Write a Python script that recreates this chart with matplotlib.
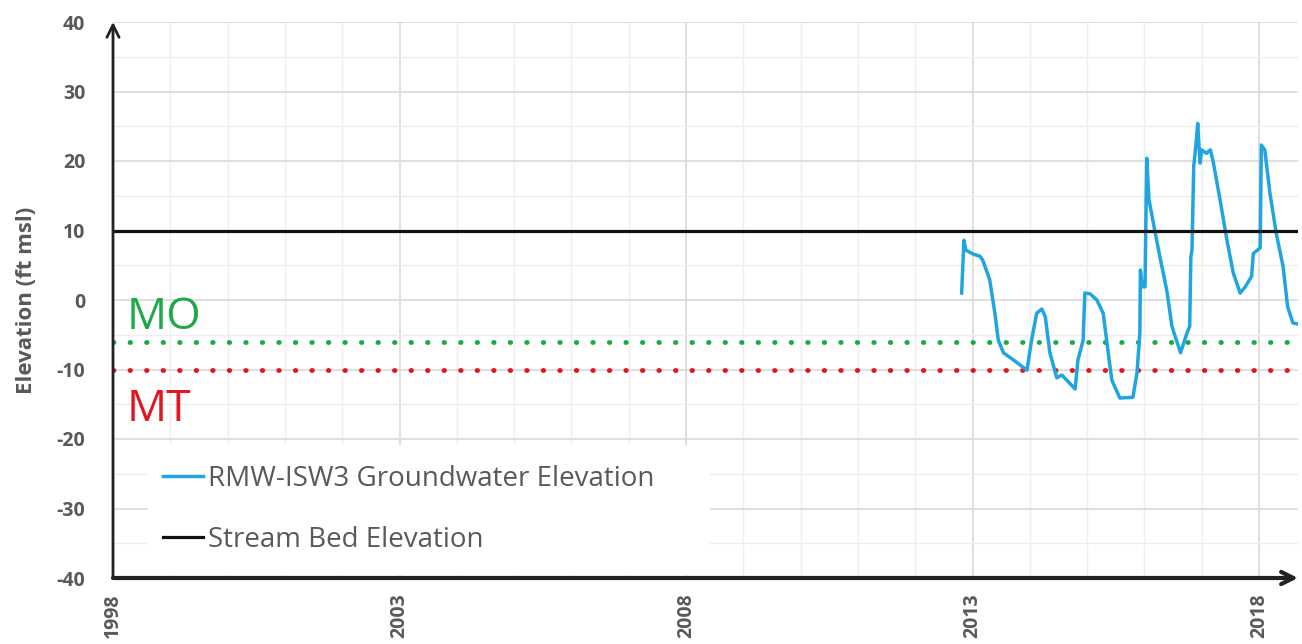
import matplotlib.pyplot as plt
from matplotlib.patches import Rectangle
from matplotlib.ticker import MultipleLocator

plt.rcParams['font.family'] = ['Open Sans', 'DejaVu Sans']
plt.rcParams['axes.unicode_minus'] = False

# RMW-ISW3 groundwater elevation (decimal year, ft msl)
gw_years = [2012.81, 2012.85, 2012.88, 2013.01, 2013.13, 2013.18, 2013.30, 2013.39,
            2013.45, 2013.54, 2013.71, 2013.95, 2014.03, 2014.12, 2014.21, 2014.27,
            2014.35, 2014.47, 2014.56, 2014.64, 2014.79, 2014.84, 2014.93, 2014.96,
            2015.05, 2015.17, 2015.28, 2015.34, 2015.43, 2015.57, 2015.80, 2015.87,
            2015.92, 2015.93, 2015.96, 2016.01, 2016.04, 2016.08, 2016.19, 2016.27,
            2016.39, 2016.48, 2016.63, 2016.74, 2016.79, 2016.81, 2016.83, 2016.86,
            2016.90, 2016.93, 2016.97, 2017.00, 2017.08, 2017.15, 2017.20, 2017.32,
            2017.44, 2017.55, 2017.67, 2017.76, 2017.87, 2017.90, 2018.02, 2018.04,
            2018.10, 2018.19, 2018.30, 2018.42, 2018.50, 2018.59, 2018.75]
gw_elev = [1.0, 8.6, 7.2, 6.6, 6.3, 5.7, 2.9, -1.9,
           -5.8, -7.6, -8.6, -10.1, -5.8, -1.9, -1.3, -2.4,
           -7.6, -11.2, -10.8, -11.5, -12.8, -8.6, -5.8, 1.0,
           0.9, 0.0, -1.9, -5.8, -11.5, -14.1, -14.0, -10.5,
           -4.8, 4.3, 1.9, 1.9, 20.4, 14.4, 9.6, 6.2,
           1.4, -3.8, -7.6, -4.8, -3.8, 6.2, 7.2, 19.2,
           22.5, 25.4, 19.7, 21.6, 21.1, 21.6, 19.9, 14.4,
           8.6, 3.9, 1.0, 1.9, 3.4, 6.7, 7.5, 22.3,
           21.6, 15.4, 9.6, 4.8, -1.0, -3.3, -3.6]

stream_bed = 10
mo_level = -6
mt_level = -10
year_ticks = [1998, 2003, 2008, 2013, 2018]

fig = plt.figure(figsize=(13.02, 6.44), dpi=100)
ax = fig.add_axes([113 / 1302, 1 - 578 / 644, 1185 / 1302, 556 / 644])
ax.set_xlim(1998, 2018.68)
ax.set_ylim(-40, 40)

# grid
ax.xaxis.set_major_locator(MultipleLocator(5))
ax.xaxis.set_minor_locator(MultipleLocator(1))
ax.yaxis.set_major_locator(MultipleLocator(10))
ax.yaxis.set_minor_locator(MultipleLocator(5))
ax.grid(which='major', color='#d9d9d9', lw=1.2)
ax.grid(which='minor', color='#eeeeee', lw=1.0)
ax.set_axisbelow(True)
ax.set_xticks(year_ticks)

for s in ax.spines.values():
    s.set_visible(False)
ax.tick_params(which='both', length=0)
ax.tick_params(axis='y', pad=20, labelsize=14, labelcolor='#595959')
ax.tick_params(axis='x', pad=11, labelsize=14, labelcolor='#595959', labelrotation=90)
for lbl in ax.get_xticklabels() + ax.get_yticklabels():
    lbl.set_fontweight('bold')

ax.set_ylabel('Elevation (ft msl)', fontsize=16, fontweight='bold', color='#595959')
ax.yaxis.set_label_coords(-0.064, 0.5)

# axes with arrowheads
ax.annotate('', xy=(0, 1.0), xytext=(0, 0), xycoords='axes fraction',
            arrowprops=dict(arrowstyle='->', lw=2, color='#222222',
                            mutation_scale=22, shrinkA=0, shrinkB=0))
ax.annotate('', xy=(1.0, 0), xytext=(0, 0), xycoords='axes fraction',
            arrowprops=dict(arrowstyle='->', lw=3, color='#222222',
                            mutation_scale=22, shrinkA=0, shrinkB=0))

# thresholds
ax.axhline(mo_level, color='#1fa84a', lw=3.5, ls=(0, (0.1, 3.3)), dash_capstyle='round')
ax.axhline(mt_level, color='#e3161e', lw=3.5, ls=(0, (0.1, 3.3)), dash_capstyle='round')
ax.text(1998.24, -2.6, 'MO', color='#1fa84a', fontsize=32, va='center', ha='left')
ax.text(1998.24, -15.8, 'MT', color='#e3161e', fontsize=32, va='center', ha='left')

gw, = ax.plot(gw_years, gw_elev, color='#1fa5df', lw=2.5,
              label='RMW-ISW3 Groundwater Elevation')
sb = ax.axhline(stream_bed, color='#111111', lw=2.3, label='Stream Bed Elevation')

# white panel behind the legend hides the grid
ax.add_patch(Rectangle((0.0295, 0.006), 0.474, 0.233, transform=ax.transAxes,
                       facecolor='white', edgecolor='none', zorder=1.5))
leg = ax.legend(handles=[gw, sb], loc='upper left', bbox_to_anchor=(0.033, 0.224),
                frameon=False, fontsize=20, borderaxespad=0,
                handlelength=1.45, handletextpad=0.15, labelspacing=1.2)
for t in leg.get_texts():
    t.set_color('#595959')

fig.savefig('out.png', dpi=100)
